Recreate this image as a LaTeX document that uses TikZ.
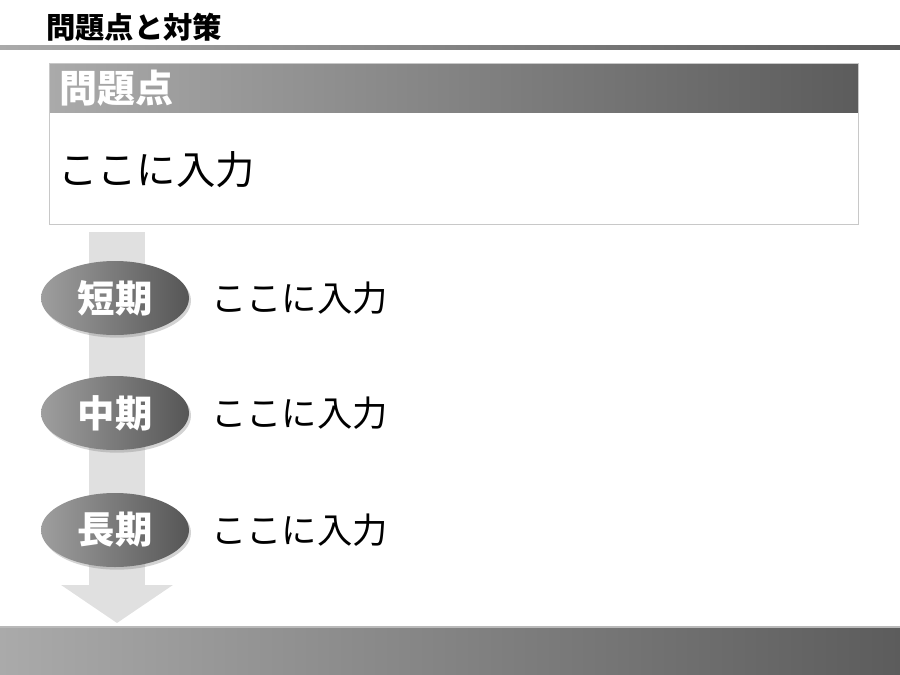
\documentclass[tikz,border=0pt]{standalone}
\usepackage{fontspec}
\setmainfont{Noto Sans CJK JP}
\usetikzlibrary{shapes.geometric, arrows.meta, positioning, shadows}

\definecolor{bandlight}{RGB}{170,170,170}
\definecolor{banddark}{RGB}{92,92,92}
\definecolor{phaselight}{RGB}{158,158,158}
\definecolor{phasedark}{RGB}{86,86,86}
\definecolor{flowgray}{RGB}{224,224,224}
\definecolor{framegray}{RGB}{200,200,200}

\begin{document}
\begin{tikzpicture}[x=0.75pt, y=-0.75pt,
    band/.style={draw=none, left color=bandlight, right color=banddark},
    flow/.style={line width=42pt, flowgray, -{Triangle[width=82.5pt, length=28.5pt]}},
    phase/.style={ellipse, minimum width=111pt, minimum height=55.5pt,
        left color=phaselight, right color=phasedark, draw=none,
        drop shadow={shadow xshift=1.5pt, shadow yshift=-2pt, opacity=0.35},
        text=white, font=\bfseries\fontsize{28}{28}\selectfont},
    entry/.style={anchor=west, inner sep=0pt, font=\fontsize{26.5}{26.5}\selectfont}]

    \useasboundingbox (0,0) rectangle (900,675);

    % Title
    \node[anchor=west, inner sep=0pt, font=\bfseries\fontsize{22}{22}\selectfont] (title) at (46,27) {問題点と対策};
    \fill[band] (0,45) rectangle (900,49);

    % Problem box
    \fill[band] (49,63) rectangle (858,112);
    \draw[framegray] (49,63) rectangle (858,224);
    \node[anchor=west, inner sep=0pt, text=white, font=\bfseries\fontsize{28.5}{28.5}\selectfont] (hdr) at (59,88) {問題点};
    \node[anchor=west, inner sep=0pt, font=\fontsize{29.5}{29.5}\selectfont] (body) at (58,170) {ここに入力};

    % Time flow
    \coordinate (flowtop) at (117,232);
    \coordinate (flowend) at (117,623);
    \draw[flow] (flowtop) -- (flowend);

    % Stages
    \node[phase] (short) at (115,298) {短期};
    \node[entry] (shortnote) at (211,298) {ここに入力};

    \node[phase] (mid) at (115,413) {中期};
    \node[entry] (midnote) at (211,413) {ここに入力};

    \node[phase] (long) at (115,530) {長期};
    \node[entry] (longnote) at (211,530) {ここに入力};

    % Footer
    \fill[band] (0,626) rectangle (900,675);
    \fill[gray!55] (0,626) rectangle (900,628);

\end{tikzpicture}
\end{document}
